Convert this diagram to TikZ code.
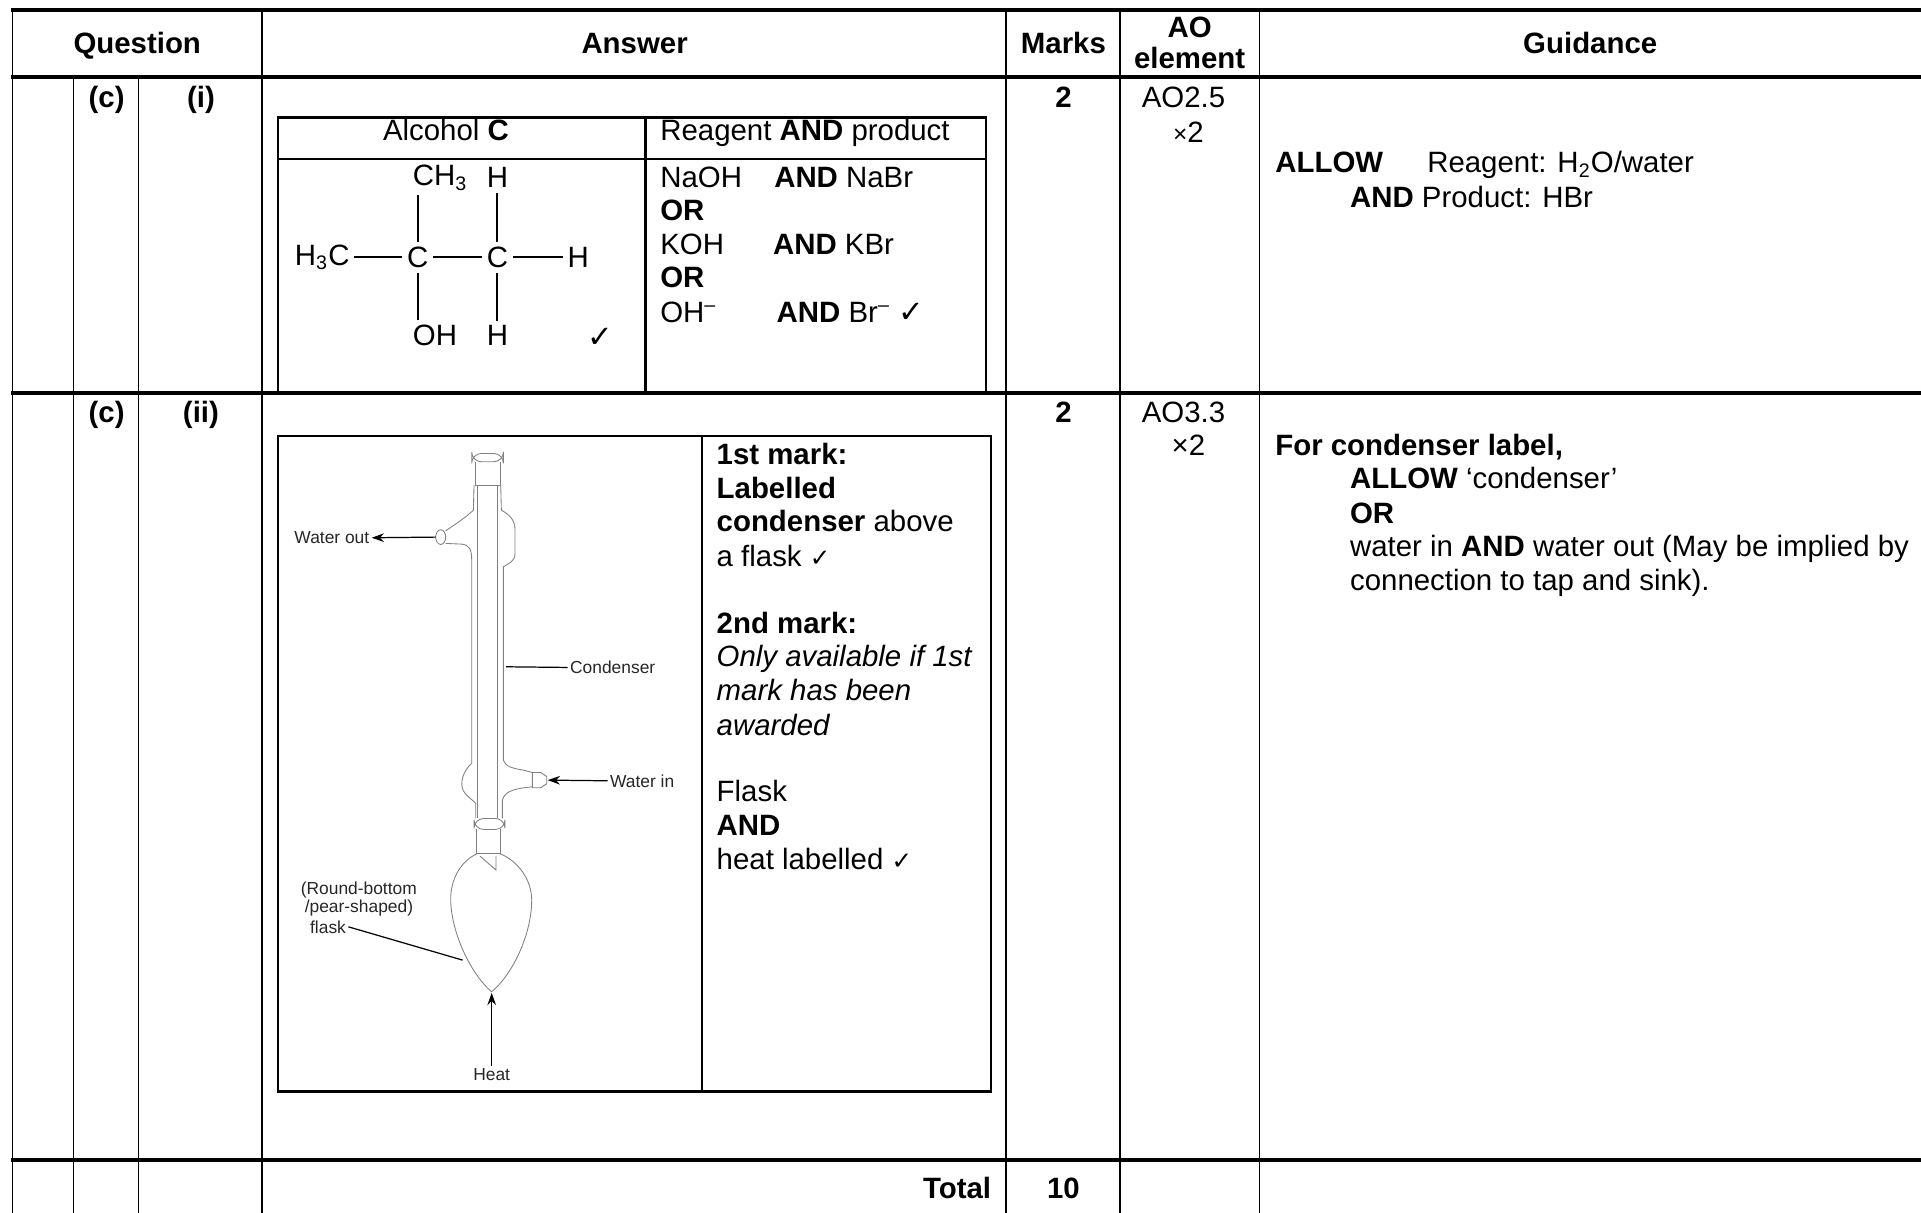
\documentclass[tikz,border=0pt]{standalone}
\usepackage{fontspec}
\setmainfont{Liberation Sans}
\newfontfamily\symfnt{DejaVu Sans}
\newcommand{\chk}{{\symfnt\fontsize{10}{12}\selectfont ✓}}
\newcommand{\bigchk}{{\symfnt\fontsize{12.5}{14}\selectfont ✓}}
\usetikzlibrary{arrows.meta}
\begin{document}
\begin{tikzpicture}[x=0.5pt,y=-0.5pt,
  txt/.style={inner sep=0pt, outer sep=0pt, anchor=base west, font=\fontsize{12}{13.75}\selectfont},
  ctxt/.style={txt, anchor=base},
  rtxt/.style={txt, anchor=base east},
  hd/.style={ctxt, font=\fontsize{12}{13.75}\selectfont\bfseries},
  atom/.style={inner sep=2pt, outer sep=0pt, font=\fontsize{12}{13.75}\selectfont},
  bond/.style={line width=0.85pt},
  thickrule/.style={line width=1.5pt},
  thinrule/.style={line width=0.6pt},
  boxrule/.style={line width=1pt},
  glass/.style={draw=black!50, line width=0.35pt},
  lbl/.style={inner sep=0pt, outer sep=1pt, font=\fontsize{7.1}{7.5}\selectfont, text=black!85},
  lead/.style={line width=0.5pt, black},
  tip/.style={-{Stealth[length=5pt,width=3.5pt]}},
]
\useasboundingbox (0,0) rectangle (1568,990);

% ---------- table rules ----------
\draw[thinrule] (10,8) -- (10,990);
\draw[thinrule] (60,63) -- (60,990);
\draw[thinrule] (113,63) -- (113,990);
\draw[thinrule] (214,8) -- (214,990);
\draw[thinrule] (821,8) -- (821,990);
\draw[thinrule] (914,8) -- (914,990);
\draw[thinrule] (1028,8) -- (1028,990);
\draw[thickrule] (9,8) -- (1568,8);
\draw[thickrule] (9,63) -- (1568,63);
\draw[thickrule] (9,321) -- (1568,321);
\draw[thickrule] (9,947) -- (1568,947);

% ---------- header ----------
\node[hd] (hq) at (112,44) {Question};
\node[hd] (ha) at (518,44) {Answer};
\node[hd] (hm) at (868,44) {Marks};
\node[hd] (hao1) at (971,31) {AO};
\node[hd] (hao2) at (971,56) {element};
\node[hd] (hg) at (1298,44) {Guidance};

% ---------- row 1 ----------
\node[hd] (q1a) at (87,88) {(c)};
\node[hd] (q1b) at (164,88) {(i)};
\node[hd] (m1) at (868,88) {2};
\node[ctxt] (ao1) at (966,88) {AO2.5};
\node[ctxt] (ao1x) at (970,116) {\fontsize{10}{12}\selectfont×\fontsize{12}{13.75}\selectfont 2};

\draw[boxrule] (227,96) rectangle (805,320);
\draw[boxrule] (527,96) -- (527,320);
\draw[boxrule] (227,130) -- (805,130);
\node[ctxt] (alc) at (364,115) {Alcohol \textbf{C}};
\node[txt] (rap) at (539,115) {Reagent \textbf{AND} product};

% molecule
\node[atom] (h3c) at (263,210) {H\textsubscript{3}C};
\node[atom] (c1) at (341,210) {C};
\node[atom] (c2) at (406,210) {C};
\node[atom] (h4) at (472,210) {H};
\node[atom, anchor=west] (ch3) at (333,145) {CH\textsubscript{3}};
\node[atom] (h1) at (406,145) {H};
\node[atom, anchor=west] (oh) at (333,274) {OH};
\node[atom] (h2) at (406,274) {H};
\draw[bond] (h3c) -- (c1);
\draw[bond] (c1) -- (c2);
\draw[bond] (c2) -- (h4);
\draw[bond] (c1.north) -- (c1.north |- ch3.south);
\draw[bond] (c1.south) -- (c1.south |- oh.north);
\draw[bond] (c2) -- (h1);
\draw[bond] (c2) -- (h2);
\node[atom] (ck1) at (490,276) {\bigchk};

\node[txt] (r1a) at (539,153) {NaOH};
\node[txt] (r1b) at (632,153) {\textbf{AND} NaBr};
\node[txt] (r2) at (539,180) {\textbf{OR}};
\node[txt] (r3a) at (539,208) {KOH};
\node[txt] (r3b) at (631,208) {\textbf{AND} KBr};
\node[txt] (r4) at (539,235) {\textbf{OR}};
\node[txt] (r5a) at (539,263) {OH\textsuperscript{–}};
\node[txt] (r5b) at (634,263) {\textbf{AND} Br\textsuperscript{–} \bigchk};

\node[txt] (g1a) at (1041,141) {\textbf{ALLOW}};
\node[txt] (g1b) at (1165,141) {Reagent: H\textsubscript{2}O/water};
\node[txt] (g1c) at (1102,169) {\textbf{AND} Product: HBr};

% ---------- row 2 ----------
\node[hd] (q2a) at (87,345) {(c)};
\node[hd] (q2b) at (164,345) {(ii)};
\node[hd] (m2) at (868,345) {2};
\node[ctxt] (ao2) at (966,345) {AO3.3};
\node[ctxt] (ao2x) at (970,372) {×2};

\node[txt] (g2a) at (1041,372) {\textbf{For condenser label,}};
\node[txt] (g2b) at (1102,399) {\textbf{ALLOW} ‘condenser’};
\node[txt] (g2c) at (1102,427) {\textbf{OR}};
\node[txt] (g2d) at (1102,454) {water in \textbf{AND} water out (May be implied by};
\node[txt] (g2e) at (1102,482) {connection to tap and sink).};

\draw[boxrule] (227,356) rectangle (809,891);
\draw[boxrule] (573,356) -- (573,891);

\node[txt] (k1) at (585,379) {\textbf{1st mark:}};
\node[txt] (k2) at (585,407) {\textbf{Labelled}};
\node[txt] (k3) at (585,434) {\textbf{condenser} above};
\node[txt] (k4) at (585,462) {a flask \chk};
\node[txt] (k5) at (585,517) {\textbf{2nd mark:}};
\node[txt] (k6) at (585,544) {\textit{Only available if 1st}};
\node[txt] (k7) at (585,572) {\textit{mark has been}};
\node[txt] (k8) at (585,600) {\textit{awarded}};
\node[txt] (k9) at (585,654) {Flask};
\node[txt] (k10) at (585,682) {\textbf{AND}};
\node[txt] (k11) at (585,710) {heat labelled \chk};

% apparatus
\begin{scope}[shift={(220.4,342.9)}, scale=0.2721]
  % top joint
  \draw[glass, rounded corners=4] (605,100) rectangle (700,125);
  \draw[glass] (615,125) -- (615,195) -- (690,195) -- (690,125);
  % inner tube
  \draw[glass] (622,195) -- (622,1195);
  \draw[glass] (682,195) -- (682,1195);
  % jacket left with water-out arm
  \draw[glass] (612,195) -- (610,270) .. controls (590,290) and (560,310) .. (527,332);
  \draw[glass] (527,370) -- (575,372) .. controls (600,375) and (605,390) .. (605,420)
     -- (605,1030) .. controls (580,1050) and (568,1090) .. (580,1112)
     .. controls (592,1132) and (610,1140) .. (617,1150) -- (617,1195);
  \draw[glass] (512,351) ellipse [x radius=15, y radius=22];
  % jacket right with water-in arm
  \draw[glass] (692,195) -- (694,270) .. controls (720,285) and (735,300) .. (735,330)
     -- (735,400) .. controls (735,425) and (715,430) .. (700,440)
     -- (700,1020) .. controls (705,1040) and (730,1045) .. (760,1050) -- (787,1057);
  \draw[glass] (787,1100) .. controls (740,1105) and (705,1110) .. (697,1140) -- (697,1195);
  \draw[glass] (787,1057) -- (812,1057) -- (830,1069) -- (830,1091) -- (812,1103) -- (787,1103) -- cycle;
  % bottom joint
  \draw[glass, rounded corners=4] (612,1195) rectangle (705,1228);
  \draw[glass] (620,1228) -- (620,1300) -- (690,1300) -- (690,1228);
  \draw[glass] (630,1308) -- (678,1350) -- (678,1308);
  % flask
  \draw[glass] (622,1300) .. controls (575,1322) and (545,1370) .. (542,1430)
     .. controls (540,1530) and (600,1660) .. (665,1715)
     .. controls (730,1660) and (785,1540) .. (785,1440)
     .. controls (785,1380) and (745,1322) .. (688,1300);

  % labels
  \coordinate (wop) at (497,351);
  \node[lbl, anchor=east] (wo) at (305,353) {Water out};
  \draw[lead, tip] (wop) -- (wo.east);
  \coordinate (cdp) at (708,740);
  \node[lbl, anchor=west] (cd) at (893,742) {Condenser};
  \draw[lead] (cdp) -- (cd.west);
  \coordinate (wip) at (833,1080);
  \node[lbl, anchor=west] (wi) at (1013,1082) {Water in};
  \draw[lead, tip] (wi.west) -- (wip);
  \node[lbl, anchor=west] (fl1) at (85,1410) {(Round-bottom};
  \node[lbl, anchor=west] (fl2) at (97,1465) {/pear-shaped)};
  \node[lbl, anchor=west] (fl3) at (113,1520) {flask};
  \coordinate (flp) at (578,1620);
  \draw[lead] (fl3.east) -- (flp);
  \node[lbl] (ht) at (665,1962) {Heat};
  \coordinate (htp) at (665,1718);
  \draw[lead, tip] (ht.north) -- (htp);
\end{scope}

% ---------- total row ----------
\node[rtxt, font=\fontsize{12}{13.75}\selectfont\bfseries] (tot) at (809,978) {Total};
\node[hd] (t10) at (868,978) {10};
\end{tikzpicture}
\end{document}
